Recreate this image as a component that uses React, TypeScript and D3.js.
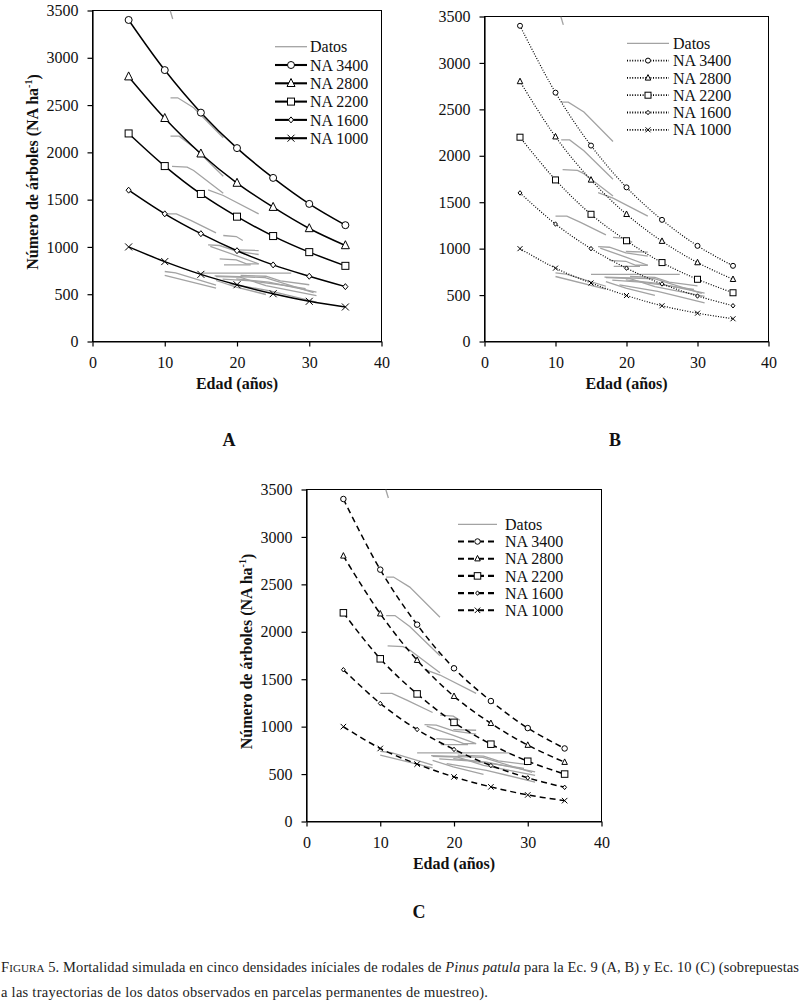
import * as d3 from "d3";
import { useEffect, useRef } from "react";

// ages where the simulated series are marked
const AGES = [5, 10, 15, 20, 25, 30, 35];
const SERIES = ["NA 3400", "NA 2800", "NA 2200", "NA 1600", "NA 1000"];
const MARKERS = ["circle", "triangle", "square", "diamond", "cross"];
const X_TICKS = [0, 10, 20, 30, 40];
const Y_TICKS = [0, 500, 1000, 1500, 2000, 2500, 3000, 3500];

// panel A (Ec. 9, solid)
const A_3400 = [3400, 2870, 2420, 2045, 1730, 1455, 1230];
const A_2800 = [2800, 2360, 1985, 1675, 1420, 1195, 1015];
const A_2200 = [2200, 1855, 1560, 1320, 1115, 945, 800];
const A_1600 = [1600, 1350, 1140, 960, 810, 690, 580];
const A_1000 = [1000, 845, 710, 600, 505, 425, 365];

// panel B (Ec. 9, dotted)
const B_3400 = [3400, 2680, 2110, 1660, 1310, 1030, 815];
const B_2800 = [2800, 2205, 1740, 1370, 1080, 850, 670];
const B_2200 = [2200, 1740, 1370, 1085, 850, 670, 525];
const B_1600 = [1600, 1265, 1000, 790, 620, 490, 385];
const B_1000 = [1000, 790, 630, 495, 385, 305, 245];

// panel C (Ec. 10, dashed)
const C_3400 = [3400, 2655, 2075, 1615, 1270, 985, 770];
const C_2800 = [2800, 2190, 1700, 1320, 1035, 805, 625];
const C_2200 = [2200, 1715, 1345, 1045, 815, 635, 500];
const C_1600 = [1600, 1245, 970, 760, 590, 460, 360];
const C_1000 = [1000, 770, 605, 470, 365, 280, 220];

// observed trajectories in permanent plots [age, trees/ha]
const DATOS: [number, number][][] = [
  [[10.75, 3500], [11.1, 3410]],
  [[10.8, 2577], [11.8, 2577], [14.0, 2471], [18.1, 2154]],
  [[10.8, 2171], [12.0, 2171], [14.0, 2055], [18.1, 1748]],
  [[11.0, 1851], [13.1, 1843], [14.0, 1808], [15.8, 1702], [18.1, 1568]],
  [[16.0, 1604], [18.1, 1544], [23.0, 1350]],
  [[10.0, 1350], [11.6, 1350], [13.6, 1280], [17.1, 1149]],
  [[18.1, 1121], [19.9, 1110], [20.8, 1068]],
  [[16.0, 1022], [17.6, 1015], [19.9, 955], [23.0, 920]],
  [[16.3, 1005], [19.9, 909], [23.0, 821]],
  [[19.9, 969], [23.0, 962]],
  [[17.6, 874], [19.9, 864], [21.3, 821], [23.0, 821]],
  [[18.2, 810], [21.9, 810]],
  [[10.0, 740], [11.5, 725], [17.1, 595]],
  [[10.0, 700], [17.1, 565]],
  [[15.0, 723], [27.5, 723]],
  [[17.1, 687], [20.4, 680], [24.0, 592], [31.0, 486]],
  [[17.1, 645], [19.9, 575], [24.0, 497]],
  [[19.0, 610], [24.4, 539], [31.0, 416]],
  [[19.9, 663], [24.4, 627], [31.0, 522]],
  [[16.9, 694], [23.9, 676], [30.6, 517]],
  [[18.0, 660], [22.0, 640], [26.0, 600], [29.5, 560]],
  [[20.5, 700], [24.0, 690], [26.0, 640], [30.0, 600]],
];

const FONT = "'Liberation Serif', 'Times New Roman', serif";

type Panel = {
  id: string;
  letter: string;
  values: number[][];
  left: number;
  right: number;
  top: number;
  bottom: number;
  dash: string | null;
  lineWidth: number;
  markerSizes: number[];
  legX: number;
  legW: number;
  legText: number;
  legY: number;
  legDy: number;
  yTitle: boolean;
  letterX: number;
  letterY: number;
};

const PANELS: Panel[] = [
  {
    id: "A", letter: "A", values: [A_3400, A_2800, A_2200, A_1600, A_1000],
    left: 92.5, right: 381.5, top: 10.5, bottom: 341.5,
    dash: null, lineWidth: 1.5, markerSizes: [7, 8, 7, 6, 7],
    legX: 275, legW: 32, legText: 310, legY: 46.7, legDy: 18.3,
    yTitle: true, letterX: 229, letterY: 440,
  },
  {
    id: "B", letter: "B", values: [B_3400, B_2800, B_2200, B_1600, B_1000],
    left: 484.5, right: 768.5, top: 16.5, bottom: 341.5,
    dash: "1,1.6", lineWidth: 1.2, markerSizes: [5, 5.5, 6, 4.5, 5],
    legX: 627, legW: 42, legText: 673, legY: 43.3, legDy: 17.3,
    yTitle: false, letterX: 615, letterY: 440,
  },
  {
    id: "C", letter: "C", values: [C_3400, C_2800, C_2200, C_1600, C_1000],
    left: 306.5, right: 601.5, top: 489.5, bottom: 821.5,
    dash: "6,4", lineWidth: 1.5, markerSizes: [5.5, 5.5, 6.5, 4.5, 5.5],
    legX: 458, legW: 39, legText: 505, legY: 524.3, legDy: 17.2,
    yTitle: true, letterX: 419, letterY: 912,
  },
];

function drawMarker(g: any, type: string, cx: number, cy: number, s: number) {
  const h = s / 2;
  let m: any;
  if (type === "circle") {
    m = g.append("circle").attr("cx", cx).attr("cy", cy).attr("r", h);
  } else if (type === "triangle") {
    m = g.append("path").attr("d", `M${cx},${cy - s * 0.6}L${cx + h},${cy + s * 0.4}L${cx - h},${cy + s * 0.4}Z`);
  } else if (type === "square") {
    m = g.append("rect").attr("x", cx - h).attr("y", cy - h).attr("width", s).attr("height", s);
  } else if (type === "diamond") {
    m = g.append("path").attr("d", `M${cx},${cy - h}L${cx + h * 0.85},${cy}L${cx},${cy + h}L${cx - h * 0.85},${cy}Z`);
  } else {
    m = g.append("path").attr("d", `M${cx - h},${cy - h}L${cx + h},${cy + h}M${cx + h},${cy - h}L${cx - h},${cy + h}`);
  }
  m.attr("fill", "#fff").attr("stroke", "#000").attr("stroke-width", 1);
}

function drawPanel(svg: any, p: Panel) {
  const x = d3.scaleLinear().domain([0, 40]).range([p.left, p.right]);
  const y = d3.scaleLinear().domain([0, 3500]).range([p.bottom, p.top]);
  const g = svg.append("g");

  g.append("clipPath")
    .attr("id", `clip-${p.id}`)
    .append("rect")
    .attr("x", p.left)
    .attr("y", p.top)
    .attr("width", p.right - p.left)
    .attr("height", p.bottom - p.top);

  g.append("rect")
    .attr("x", p.left)
    .attr("y", p.top)
    .attr("width", p.right - p.left)
    .attr("height", p.bottom - p.top)
    .attr("fill", "none")
    .attr("stroke", "#000")
    .attr("stroke-width", 1);

  const xAxis = d3.axisBottom(x).tickValues(X_TICKS).tickSize(5).tickSizeOuter(0).tickPadding(10).tickFormat(d3.format("d"));
  const yAxis = d3.axisLeft(y).tickValues(Y_TICKS).tickSize(5).tickSizeOuter(0).tickPadding(9).tickFormat(d3.format("d"));

  const xg = g.append("g").attr("transform", `translate(0,${p.bottom})`).call(xAxis as any);
  const yg = g.append("g").attr("transform", `translate(${p.left},0)`).call(yAxis as any);
  [xg, yg].forEach((ax) => {
    ax.attr("font-family", FONT);
    ax.selectAll("text").attr("fill", "#111").attr("font-size", 16).attr("font-family", FONT);
    ax.selectAll("path").attr("stroke", "#000").attr("stroke-width", 1.2);
    ax.selectAll("line").attr("stroke", "#000").attr("stroke-width", 1.2);
  });

  const plot = g.append("g").attr("clip-path", `url(#clip-${p.id})`);

  const dataLine = d3.line<[number, number]>().x((d) => x(d[0])).y((d) => y(d[1]));
  plot
    .selectAll("path.datos")
    .data(DATOS)
    .join("path")
    .attr("class", "datos")
    .attr("d", (d: any) => dataLine(d))
    .attr("fill", "none")
    .attr("stroke", "#a3a3a3")
    .attr("stroke-width", 1.3);

  const simLine = d3
    .line<number>()
    .x((_, i) => x(AGES[i]))
    .y((d) => y(d))
    .curve(d3.curveCatmullRom.alpha(0.5));

  p.values.forEach((vals, si) => {
    const path = plot
      .append("path")
      .attr("d", simLine(vals))
      .attr("fill", "none")
      .attr("stroke", "#000")
      .attr("stroke-width", p.lineWidth);
    if (p.dash) path.attr("stroke-dasharray", p.dash);
    vals.forEach((v, i) => drawMarker(plot, MARKERS[si], x(AGES[i]), y(v), p.markerSizes[si]));
  });

  // legend
  const leg = g.append("g");
  leg.append("line")
    .attr("x1", p.legX).attr("x2", p.legX + p.legW)
    .attr("y1", p.legY).attr("y2", p.legY)
    .attr("stroke", "#a3a3a3").attr("stroke-width", 1.3);
  leg.append("text")
    .attr("x", p.legText).attr("y", p.legY).attr("dy", "0.35em")
    .attr("font-family", FONT).attr("font-size", 16).attr("fill", "#111")
    .text("Datos");
  SERIES.forEach((name, si) => {
    const cy = p.legY + (si + 1) * p.legDy;
    const l = leg.append("line")
      .attr("x1", p.legX).attr("x2", p.legX + p.legW)
      .attr("y1", cy).attr("y2", cy)
      .attr("stroke", "#000").attr("stroke-width", p.lineWidth + 0.6);
    if (p.dash) l.attr("stroke-dasharray", p.dash);
    drawMarker(leg, MARKERS[si], p.legX + p.legW / 2, cy, p.markerSizes[si]);
    leg.append("text")
      .attr("x", p.legText).attr("y", cy).attr("dy", "0.35em")
      .attr("font-family", FONT).attr("font-size", 16).attr("fill", "#111")
      .text(name);
  });

  // titles
  g.append("text")
    .attr("x", (p.left + p.right) / 2)
    .attr("y", p.bottom + 47)
    .attr("text-anchor", "middle")
    .attr("font-family", FONT).attr("font-size", 16).attr("font-weight", "bold")
    .attr("fill", "#111")
    .text("Edad (años)");

  if (p.yTitle) {
    const cx = p.left - 60;
    const cy = (p.top + p.bottom) / 2 - 4;
    const t = g.append("text")
      .attr("transform", `translate(${cx},${cy}) rotate(-90)`)
      .attr("text-anchor", "middle")
      .attr("dy", "0.35em")
      .attr("font-family", FONT).attr("font-size", 16).attr("font-weight", "bold")
      .attr("fill", "#111");
    t.append("tspan").text("Número de árboles (NA ha");
    t.append("tspan").attr("font-size", 10).attr("dy", "-0.6em").text("-1");
    t.append("tspan").attr("dy", "0.4em").text(")");
  }

  g.append("text")
    .attr("x", p.letterX).attr("y", p.letterY).attr("dy", "0.35em")
    .attr("text-anchor", "middle")
    .attr("font-family", FONT).attr("font-size", 18).attr("font-weight", "bold")
    .attr("fill", "#111")
    .text(p.letter);
}

function justify(sel: any, target: number) {
  const node = sel.node() as SVGTextElement;
  const len = node.getComputedTextLength();
  const chars = (node.textContent || "").length;
  if (len > 0 && chars > 1) sel.attr("letter-spacing", (target - len) / (chars - 1));
}

export default function App() {
  const svgRef = useRef<SVGSVGElement | null>(null);

  useEffect(() => {
    if (!svgRef.current) return;
    const svg = d3.select(svgRef.current);
    svg.selectAll("*").remove();

    svg.append("rect").attr("width", 803).attr("height", 1004).attr("fill", "#fff");
    PANELS.forEach((p) => drawPanel(svg, p));

    // caption
    const cap1 = svg.append("text")
      .attr("x", 1).attr("y", 972)
      .attr("font-family", FONT).attr("font-size", 14.5).attr("fill", "#222");
    cap1.append("tspan").text("F");
    cap1.append("tspan").attr("font-size", 11).text("IGURA");
    cap1.append("tspan").text(" 5. Mortalidad simulada en cinco densidades iníciales de rodales de ");
    cap1.append("tspan").attr("font-style", "italic").text("Pinus patula");
    cap1.append("tspan").text(" para la Ec. 9 (A, B) y Ec. 10 (C) (sobrepuestas");

    const cap2 = svg.append("text")
      .attr("x", 1).attr("y", 997)
      .attr("font-family", FONT).attr("font-size", 14.5).attr("fill", "#222")
      .text("a las trayectorias de los datos observados en parcelas permanentes de muestreo).");

    justify(cap1, 798);
    justify(cap2, 487);
  }, []);

  return (
    <svg
      ref={svgRef}
      width={803}
      height={1004}
      style={{ position: "absolute", left: 0, top: 0, display: "block" }}
    />
  );
}
